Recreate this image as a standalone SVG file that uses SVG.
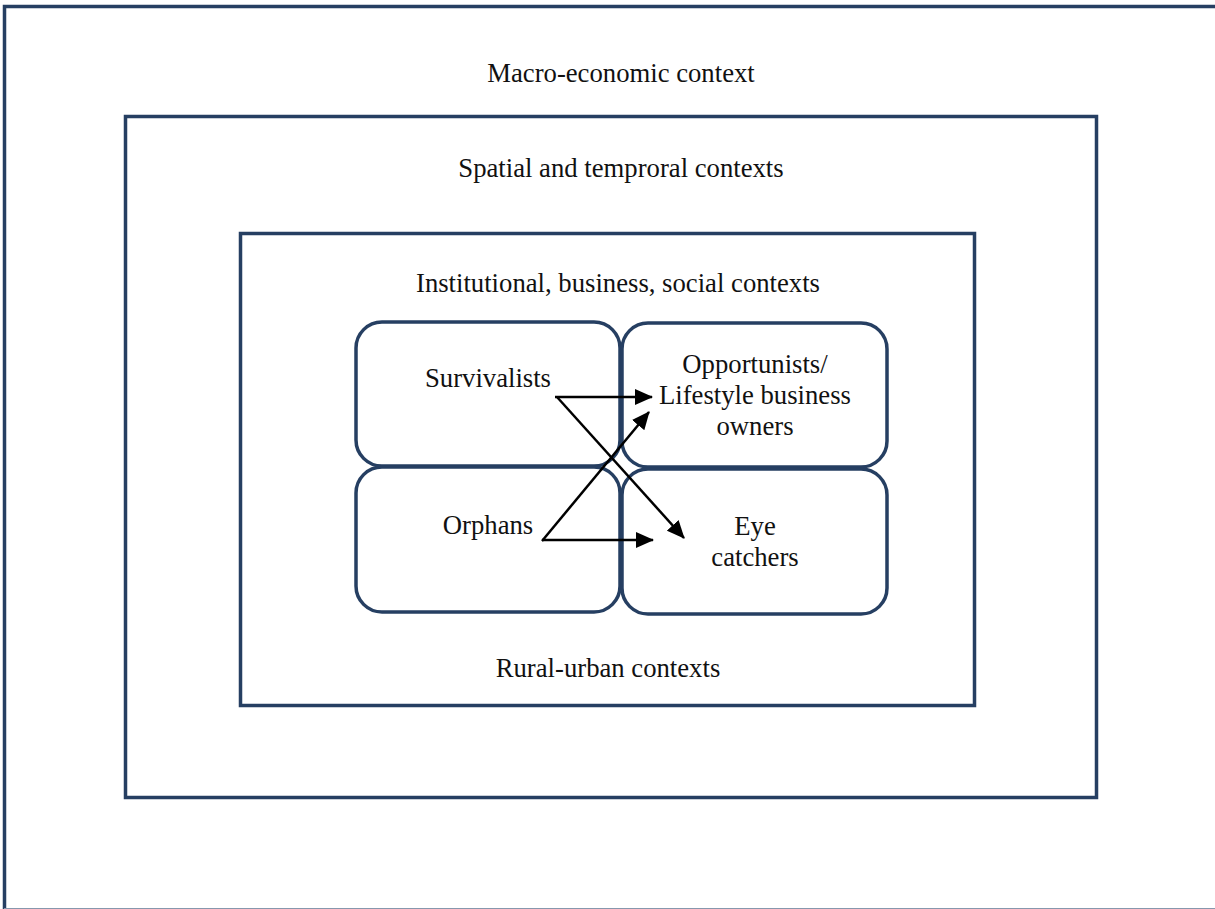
<svg xmlns="http://www.w3.org/2000/svg" width="1215" height="909" viewBox="0 0 1215 909">
<defs>
<style>
.frame{fill:none;stroke:#263f62;stroke-width:3.5}
.box{fill:#fff;stroke:#263f62;stroke-width:3.5}
.t{font-family:"Liberation Serif","Times New Roman",serif;font-size:26.7px;fill:#111;text-anchor:middle}
.c{stroke:#000;stroke-width:2.5;fill:none}
</style>
<marker id="ah2" markerWidth="18" markerHeight="16" refX="17" refY="8" orient="auto" markerUnits="userSpaceOnUse" viewBox="0 0 18 16">
<path d="M0,0 L18,8 L0,16 z" fill="#000"/>
</marker>
</defs>
<rect width="1215" height="909" fill="#fff"/>
<g id="macro">
<path class="frame" d="M4.5,909 V6.5 H1215"/>
<line x1="4" y1="908.5" x2="1215" y2="908.5" stroke="#8797ad" stroke-width="1"/>
<text class="t" x="621" y="82">Macro-economic context</text>
</g>
<g id="spatial">
<rect class="frame" x="125.5" y="116.5" width="971" height="681"/>
<text class="t" x="621" y="177">Spatial and temproral contexts</text>
</g>
<g id="institutional">
<rect class="frame" x="240.5" y="233.5" width="734" height="472"/>
<text class="t" x="618" y="292">Institutional, business, social contexts</text>
<text class="t" x="608" y="677">Rural-urban contexts</text>
</g>
<g id="survivalists">
<rect class="box" x="356" y="322" width="264" height="144" rx="26"/>
<text class="t" x="488" y="387">Survivalists</text>
</g>
<g id="orphans">
<rect class="box" x="356" y="467" width="264" height="145" rx="26"/>
<text class="t" x="488" y="534">Orphans</text>
</g>
<g id="opportunists">
<rect class="box" x="622" y="323" width="265" height="144" rx="26"/>
<text class="t" x="755" y="373">Opportunists/</text>
<text class="t" x="755" y="404">Lifestyle business</text>
<text class="t" x="755" y="435">owners</text>
</g>
<g id="eyecatchers">
<rect class="box" x="622" y="469" width="265" height="145" rx="26"/>
<text class="t" x="755" y="535">Eye</text>
<text class="t" x="755" y="566">catchers</text>
</g>
<g id="connectors">
<line class="c" x1="555" y1="397" x2="652" y2="397" marker-end="url(#ah2)"/>
<line class="c" x1="557" y1="397" x2="684" y2="538" marker-end="url(#ah2)"/>
<line class="c" x1="542" y1="541" x2="649" y2="412" marker-end="url(#ah2)"/>
<line class="c" x1="542" y1="540" x2="653" y2="540" marker-end="url(#ah2)"/>
</g>
</svg>
